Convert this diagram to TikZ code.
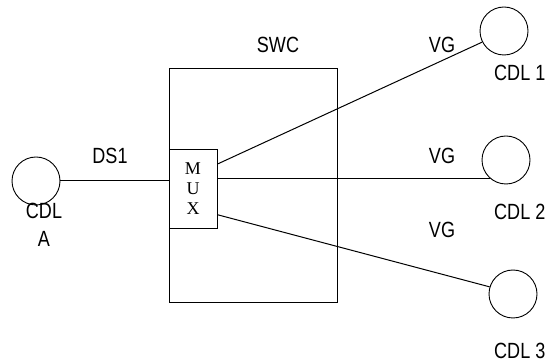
\documentclass[tikz,border=0pt]{standalone}
\usepackage{fontspec}
\setmainfont{Liberation Sans}[FakeStretch=0.82]
\newfontfamily\muxfont{Liberation Serif}
\tikzset{
	cdl/.style={circle,draw=black,line width=0.9pt,inner sep=0pt, minimum size=48pt},
	labl/.style={shape=rectangle,inner sep=0pt,font=\fontsize{22}{28.5}\selectfont},
	box/.style={draw=black,line width=0.9pt,inner sep=0pt},
	link/.style={line width=1pt},
	}
\begin{document}
\begin{tikzpicture}[x=1pt,y=-1pt]
 \path[use as bounding box,clip] (0,0) rectangle (547,363);

\node (swc) at (253,185) [box,minimum width=168pt,minimum height=234pt] {};
\node (mux) at (193,188.5) [box,fill=white,minimum width=48pt,minimum height=79pt,
  align=center,font=\muxfont\fontsize{18}{20}\selectfont] {M\\U\\X};

\node (cdla) at (36,181) [cdl] {};
\node (cdl1) at (504,31) [cdl] {};
\node (cdl2) at (506,160) [cdl] {};
\node (cdl3) at (513,294) [cdl] {};

\node (swcl) at (278,45) [labl] {SWC};
\node (ds1) at (110,156) [labl] {DS1};
\node (cdlal) at (44,225) [labl,align=center] {CDL\\A};
\node (vg1) at (442,45) [labl] {VG};
\node (vg2) at (442,156) [labl] {VG};
\node (vg3) at (442,230) [labl] {VG};
\node (cdl1l) at (494,73) [labl,anchor=west] {CDL 1};
\node (cdl2l) at (494,212) [labl,anchor=west] {CDL 2};
\node (cdl3l) at (494,351) [labl,anchor=west] {CDL 3};

 \draw [link] (cdla.east) -- (mux.west |- cdla.east);
 \draw [link] (mux.45) -- (cdl1.207);
 \draw [link] (mux.east |- cdl2.230) -- (cdl2.230);
 \draw [link] (mux.-47) -- (cdl3.163);
\end{tikzpicture}
\end{document}
